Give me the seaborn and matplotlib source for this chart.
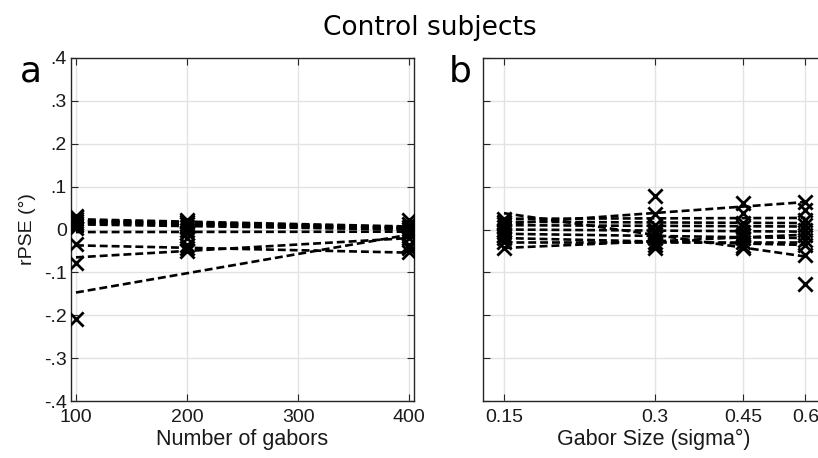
import numpy as np
import pandas as pd
import matplotlib
matplotlib.use("Agg")
import matplotlib.pyplot as plt
import seaborn as sns

# ---------------- data ----------------
# Panel a: number of gabors
gabor_counts = [100, 200, 400]
pse_a_100 = [0.032, 0.028, 0.024, 0.020, 0.016, 0.010, 0.004, -0.033, -0.078, -0.208]
pse_a_200 = [0.022, 0.018, 0.012, 0.006, 0.000, -0.008, -0.020, -0.035, -0.042, -0.050]
pse_a_400 = [0.022, 0.012, 0.006, 0.002, -0.004, -0.010, -0.020, -0.035, -0.043, -0.052]
fit_a_x = [100, 400]
fit_a_start = [0.024, 0.021, 0.018, 0.015, 0.012, -0.006, -0.037, -0.065, -0.147, 0.020]
fit_a_end = [0.007, 0.005, 0.003, 0.000, 0.000, -0.005, -0.054, -0.020, -0.012, 0.004]

# Panel b: gabor size (sigma, deg)
gabor_sizes = [0.15, 0.3, 0.45, 0.6]
pse_b_015 = [0.025, 0.018, 0.012, 0.005, 0.000, -0.005, -0.012, -0.020, -0.030, -0.042]
pse_b_030 = [0.077, 0.035, 0.010, 0.000, -0.005, -0.010, -0.020, -0.028, -0.035, -0.043]
pse_b_045 = [0.062, 0.038, 0.015, 0.005, -0.005, -0.012, -0.020, -0.030, -0.038, -0.043]
pse_b_060 = [0.064, 0.046, 0.022, 0.011, -0.001, -0.012, -0.024, -0.036, -0.059, -0.127]
fit_b_x = [0.15, 0.6]
fit_b_start = [0.038, 0.013, 0.025, 0.018, 0.010, 0.000, -0.010, -0.020, -0.030, -0.043]
fit_b_end = [-0.063, 0.064, 0.027, 0.015, 0.007, -0.005, -0.020, -0.036, -0.030, -0.012]

y_ticks = [-0.4, -0.3, -0.2, -0.1, 0.0, 0.1, 0.2, 0.3, 0.4]
y_tick_labels = ["-.4", "-.3", "-.2", "-.1", "0", ".1", ".2", ".3", ".4"]
xa_ticks = [100, 200, 300, 400]
xa_tick_labels = ["100", "200", "300", "400"]
xb_ticks = [0.15, 0.3, 0.45, 0.6]
xb_tick_labels = ["0.15", "0.3", "0.45", "0.6"]

# ---------------- long tables ----------------
def points_table(xs, cols):
    rows = []
    for x, col in zip(xs, cols):
        for s, v in enumerate(col):
            rows.append({"subject": s, "x": x, "y": v})
    return pd.DataFrame(rows)

def fits_table(xs, starts, ends):
    rows = []
    for s, (a, b) in enumerate(zip(starts, ends)):
        rows.append({"subject": s, "x": xs[0], "y": a})
        rows.append({"subject": s, "x": xs[1], "y": b})
    return pd.DataFrame(rows)

pts_a = points_table(gabor_counts, [pse_a_100, pse_a_200, pse_a_400])
fit_a = fits_table(fit_a_x, fit_a_start, fit_a_end)
pts_b = points_table(gabor_sizes, [pse_b_015, pse_b_030, pse_b_045, pse_b_060])
fit_b = fits_table(fit_b_x, fit_b_start, fit_b_end)

# ---------------- style ----------------
sns.set_style("white")
plt.rcParams["font.family"] = ["Liberation Sans", "DejaVu Sans"]

W, H = 818, 458
fig = plt.figure(figsize=(W / 100, H / 100), dpi=100)

axw = 343 / W
axh = 343 / H
ax_a = fig.add_axes([71 / W, 1 - 401 / H, axw, axh])
ax_b = fig.add_axes([483 / W, 1 - 401 / H, 350 / W, axh])

spine_col = "#262626"
for ax in (ax_a, ax_b):
    ax.set_axisbelow(True)
    ax.grid(True, color="#e3e3e3", linewidth=1.0)
    for sp in ax.spines.values():
        sp.set_color(spine_col)
        sp.set_linewidth(1.0)
        sp.set_visible(True)
    ax.tick_params(direction="in", length=5, width=0.8, color=spine_col,
                   top=True, right=True, bottom=True, left=True,
                   labelsize=14, labelcolor="#1a1a1a")
    ax.tick_params(axis="x", pad=6)
    ax.tick_params(axis="y", pad=3)
    ax.set_ylim(-0.4, 0.4)
    ax.set_yticks(y_ticks)

def draw(ax, fits, pts):
    sns.lineplot(data=fits, x="x", y="y", units="subject", estimator=None,
                 color="black", linewidth=1.9, ax=ax, legend=False,
                 dashes=False, linestyle=(0, (3.0, 1.5)))
    sns.scatterplot(data=pts, x="x", y="y", marker="x", s=105, color="black",
                    linewidth=2.0, ax=ax, legend=False, zorder=3)
    ax.set_xlabel("")
    ax.set_ylabel("")

draw(ax_a, fit_a, pts_a)
draw(ax_b, fit_b, pts_b)

label_y = -(429 - 401) / 343

# panel a axes
ax_a.set_xlim(95.5, 404.2)
ax_a.set_xticks(xa_ticks)
ax_a.set_xticklabels(xa_tick_labels)
ax_a.set_yticklabels(y_tick_labels)
ax_a.set_xlabel("Number of gabors", fontsize=15.5, color="#1a1a1a")
ax_a.xaxis.set_label_coords(0.5, label_y)
ax_a.set_ylabel("rPSE (°)", fontsize=14, color="#1a1a1a", labelpad=6)

# panel b axes (log-scaled size axis)
ax_b.set_xscale("log")
ax_b.set_xlim(0.1362, 0.1362 * np.exp(350 / 217.4))
ax_b.set_xticks(xb_ticks)
ax_b.set_xticklabels(xb_tick_labels)
ax_b.xaxis.set_minor_locator(matplotlib.ticker.NullLocator())
ax_b.set_yticklabels([])
ax_b.set_xlabel("Gabor Size (sigma°)", fontsize=15.5, color="#1a1a1a")
ax_b.xaxis.set_label_coords((654 - 483) / 350, label_y)

fig.text(430 / W, 1 - 28 / H, "Control subjects", ha="center", va="center",
         fontsize=19, family="DejaVu Sans", color="black")
fig.text(31 / W, 1 - 71 / H, "a", ha="center", va="center", fontsize=26,
         family="DejaVu Sans", color="black")
fig.text(460 / W, 1 - 71 / H, "b", ha="center", va="center", fontsize=26,
         family="DejaVu Sans", color="black")

fig.savefig("out.png", dpi=100)
